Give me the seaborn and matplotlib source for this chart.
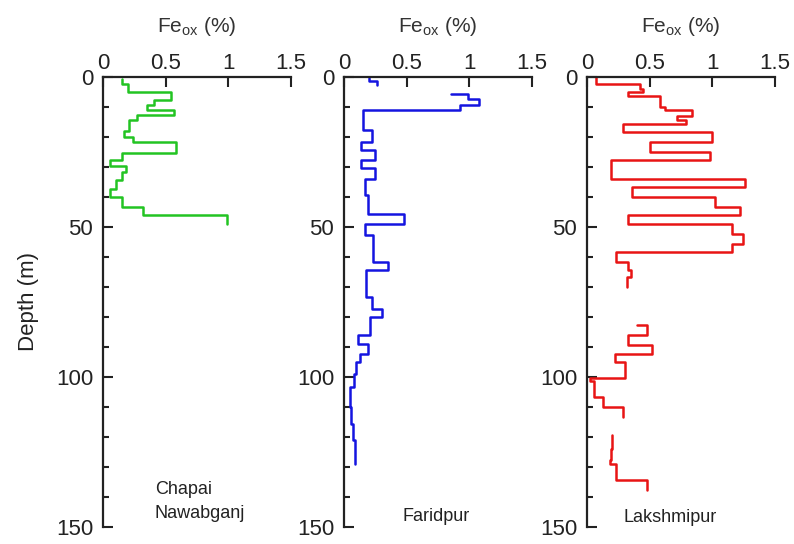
import matplotlib.pyplot as plt
import seaborn as sns
import pandas as pd
from matplotlib.ticker import MultipleLocator

# depth boundaries (m) of each interval and Fe_ox (%) inside it, one pair per continuous run
chapai_depth = [0.6, 2.5, 5, 7.8, 9.4, 10.9, 12.8, 14.2, 18, 20, 21.7, 25.3, 27.8,
                29.8, 31.7, 34.2, 37.2, 40, 43.3, 46.1, 48.9]
chapai_fe = [0.15, 0.2, 0.54, 0.41, 0.35, 0.57, 0.27, 0.21, 0.17, 0.24, 0.58, 0.15,
             0.055, 0.18, 0.15, 0.1, 0.055, 0.15, 0.32, 0.99]

faridpur_depth_a = [0.3, 1.5, 2.8]
faridpur_fe_a = [0.2, 0.26]
faridpur_depth_b = [5.6, 5.6, 7.2, 9.4, 10.9, 17.8, 21.7, 24.4, 27.8, 30.2, 33.9, 39.4,
                    45.6, 48.9, 52.8, 61.7, 64.4, 73.3, 77.2, 80, 86.1, 88.9, 92.2, 95,
                    98.9, 103.3, 110, 115.6, 121.1, 128.9]
faridpur_fe_b = [0.855, 0.99, 1.08, 0.93, 0.155, 0.22, 0.14, 0.25, 0.14, 0.25, 0.17,
                 0.19, 0.48, 0.17, 0.23, 0.35, 0.18, 0.22, 0.3, 0.21, 0.11, 0.19, 0.13,
                 0.1, 0.08, 0.05, 0.06, 0.07, 0.09]

lakshmi_depth_a = [0, 2.2, 3.9, 5, 6.4, 10, 11.1, 13.1, 14.2, 15.6, 18.3, 21.7, 25,
                   27.8, 33.9, 36.7, 40, 43.3, 46.1, 48.9, 52.2, 55.6, 58.3, 61.7,
                   64.4, 66.7, 70]
lakshmi_fe_a = [0.075, 0.42, 0.45, 0.33, 0.58, 0.62, 0.84, 0.72, 0.79, 0.29, 1.0, 0.5,
                0.98, 0.195, 1.26, 0.36, 1.02, 1.22, 0.33, 1.16, 1.25, 1.16, 0.23,
                0.33, 0.35, 0.32]
lakshmi_depth_b = [82.8, 82.8, 86.1, 89.4, 92.2, 95, 100.3, 101.5, 106.7, 110, 113.3]
lakshmi_fe_b = [0.4, 0.48, 0.33, 0.52, 0.22, 0.3, 0.02, 0.056, 0.13, 0.29]
lakshmi_depth_c = [119.4, 124, 127.8, 128.9, 134.4, 137.8]
lakshmi_fe_c = [0.2, 0.19, 0.18, 0.235, 0.48]

sites = ['Chapai\nNawabganj', 'Faridpur', 'Lakshmipur']
colors = ['#22c422', '#1414e0', '#e81414']
label_pos = [(0.415, 141.5), (0.468, 146.4), (0.29, 147)]


def profile(runs):
    rows = []
    for k, (depth, fe) in enumerate(runs):
        fe = list(fe) + [fe[-1]]
        for d, v in zip(depth, fe):
            rows.append((k, d, v))
    return pd.DataFrame(rows, columns=['run', 'depth', 'fe'])


profiles = [
    profile([(chapai_depth, chapai_fe)]),
    profile([(faridpur_depth_a, faridpur_fe_a), (faridpur_depth_b, faridpur_fe_b)]),
    profile([(lakshmi_depth_a, lakshmi_fe_a), (lakshmi_depth_b, lakshmi_fe_b),
             (lakshmi_depth_c, lakshmi_fe_c)]),
]

sns.set_style('ticks')
plt.rcParams['font.family'] = ['Liberation Sans', 'DejaVu Sans']
plt.rcParams['mathtext.fontset'] = 'custom'
plt.rcParams['mathtext.rm'] = 'Liberation Sans'

fig = plt.figure(figsize=(7.94, 5.44), dpi=100, facecolor='white')
lefts = [0.1297, 0.4332, 0.7393]

for i, df in enumerate(profiles):
    ax = fig.add_axes([lefts[i], 0.0313, 0.2365, 0.8272])
    sns.lineplot(data=df, x='fe', y='depth', units='run', estimator=None, sort=False,
                 drawstyle='steps-pre', color=colors[i], linewidth=1.8, ax=ax,
                 legend=False)
    ax.set_xlim(0, 1.5)
    ax.set_ylim(150, 0)
    ax.xaxis.tick_top()
    ax.xaxis.set_label_position('top')
    ax.set_xticks([0, 0.5, 1, 1.5])
    ax.set_xticklabels(['0', '0.5', '1', '1.5'])
    ax.set_yticks([0, 50, 100, 150])
    ax.yaxis.set_minor_locator(MultipleLocator(10))
    ax.tick_params(axis='both', which='major', direction='in', length=7, width=1.5,
                   labelsize=16, color='#222222', labelcolor='#222222')
    ax.tick_params(axis='x', pad=2)
    ax.tick_params(axis='y', pad=7)
    ax.tick_params(axis='y', which='minor', direction='in', length=4, width=1.5,
                   color='#222222')
    ax.spines['right'].set_visible(False)
    ax.spines['bottom'].set_visible(False)
    for s in ['top', 'left']:
        ax.spines[s].set_linewidth(1.6)
        ax.spines[s].set_color('#222222')
    ax.set_xlabel(r'Fe$_\mathregular{ox}$ (%)', fontsize=15, labelpad=15,
                  color='#333333')
    ax.set_ylabel('Depth (m)' if i == 0 else '', fontsize=16, labelpad=12,
                  color='#222222')
    ax.text(label_pos[i][0], label_pos[i][1], sites[i], fontsize=13, ha='left',
            va='center', linespacing=1.5, color='#222222')

fig.savefig('out.png', dpi=100, facecolor='white')
